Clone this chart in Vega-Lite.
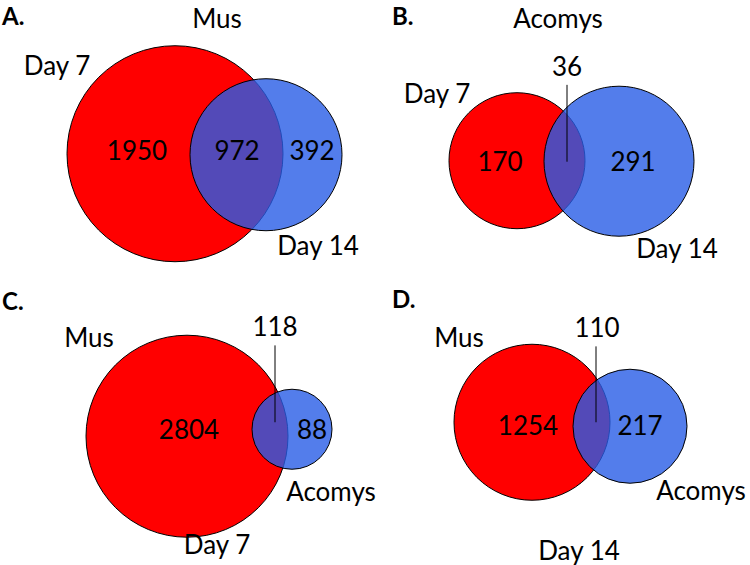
{
  "$schema": "https://vega.github.io/schema/vega-lite/v6.json",
  "width": 750,
  "height": 565,
  "autosize": {"type": "fit", "contains": "padding"},
  "padding": 0,
  "background": "white",
  "config": {"view": {"stroke": null}},
  "datasets": {
    "circles": [
      {"panel": "A", "set": "first", "ord": 1, "cx": 175, "cy": 154, "r": 108},
      {"panel": "A", "set": "second", "ord": 2, "cx": 266, "cy": 155, "r": 76},
      {"panel": "B", "set": "first", "ord": 1, "cx": 517, "cy": 161, "r": 68},
      {"panel": "B", "set": "second", "ord": 2, "cx": 619, "cy": 161.5, "r": 75},
      {"panel": "C", "set": "first", "ord": 1, "cx": 187, "cy": 437, "r": 101},
      {"panel": "C", "set": "second", "ord": 2, "cx": 292, "cy": 430, "r": 40},
      {"panel": "D", "set": "first", "ord": 1, "cx": 532, "cy": 423, "r": 78},
      {"panel": "D", "set": "second", "ord": 2, "cx": 630, "cy": 427, "r": 57}
    ],
    "labels": [
      {"panel": "A", "text": "Mus", "x": 217, "y": 20},
      {"panel": "A", "text": "Day 7", "x": 57, "y": 67},
      {"panel": "A", "text": "1950", "x": 137, "y": 152},
      {"panel": "A", "text": "972", "x": 237, "y": 152},
      {"panel": "A", "text": "392", "x": 312, "y": 152},
      {"panel": "A", "text": "Day 14", "x": 318, "y": 247},
      {"panel": "B", "text": "Acomys", "x": 558, "y": 20},
      {"panel": "B", "text": "36", "x": 567, "y": 68},
      {"panel": "B", "text": "Day 7", "x": 437, "y": 95},
      {"panel": "B", "text": "170", "x": 500, "y": 163},
      {"panel": "B", "text": "291", "x": 633, "y": 163},
      {"panel": "B", "text": "Day 14", "x": 677, "y": 250},
      {"panel": "C", "text": "Mus", "x": 89, "y": 340},
      {"panel": "C", "text": "118", "x": 275, "y": 329},
      {"panel": "C", "text": "2804", "x": 189, "y": 432},
      {"panel": "C", "text": "88", "x": 312, "y": 432},
      {"panel": "C", "text": "Acomys", "x": 331, "y": 494},
      {"panel": "C", "text": "Day 7", "x": 217, "y": 547},
      {"panel": "D", "text": "Mus", "x": 459, "y": 340},
      {"panel": "D", "text": "110", "x": 597, "y": 330},
      {"panel": "D", "text": "1254", "x": 528, "y": 428},
      {"panel": "D", "text": "217", "x": 640, "y": 428},
      {"panel": "D", "text": "Acomys", "x": 701, "y": 493},
      {"panel": "D", "text": "Day 14", "x": 579, "y": 553}
    ],
    "panels": [
      {"text": "A.", "x": 2, "y": 18},
      {"text": "B.", "x": 392, "y": 18},
      {"text": "C.", "x": 2, "y": 304},
      {"text": "D.", "x": 392, "y": 302}
    ],
    "leaders": [
      {"panel": "B", "x": 567, "y1": 85, "y2": 162},
      {"panel": "C", "x": 275, "y1": 346, "y2": 423},
      {"panel": "D", "x": 596, "y1": 347, "y2": 423}
    ]
  },
  "layer": [
    {
      "data": {"name": "circles"},
      "mark": {"type": "point", "shape": "circle", "filled": true, "opacity": 1, "stroke": "black", "strokeWidth": 1, "strokeOpacity": 1},
      "encoding": {
        "x": {"field": "cx", "type": "quantitative", "scale": {"domain": [0, 750], "nice": false, "zero": false}, "axis": null},
        "y": {"field": "cy", "type": "quantitative", "scale": {"domain": [0, 565], "nice": false, "zero": false, "reverse": true}, "axis": null},
        "size": {"field": "r", "type": "quantitative", "scale": {"type": "pow", "exponent": 2, "domain": [0, 120], "range": [0, 57600]}, "legend": null},
        "fill": {"field": "set", "type": "nominal", "scale": {"domain": ["first", "second"], "range": ["#FF0000", "#285DE6"]}, "legend": null},
        "fillOpacity": {"field": "set", "type": "ordinal", "scale": {"domain": ["first", "second"], "range": [1, 0.8]}, "legend": null},
        "order": {"field": "ord", "type": "quantitative"}
      }
    },
    {
      "data": {"name": "leaders"},
      "mark": {"type": "rule", "color": "black", "strokeWidth": 1},
      "encoding": {
        "x": {"field": "x", "type": "quantitative"},
        "y": {"field": "y1", "type": "quantitative"},
        "y2": {"field": "y2"}
      }
    },
    {
      "data": {"name": "labels"},
      "mark": {"type": "text", "font": "Lato", "fontSize": 26, "align": "center", "baseline": "middle", "color": "black"},
      "encoding": {
        "x": {"field": "x", "type": "quantitative"},
        "y": {"field": "y", "type": "quantitative"},
        "text": {"field": "text"}
      }
    },
    {
      "data": {"name": "panels"},
      "mark": {"type": "text", "font": "Lato", "fontSize": 24, "fontWeight": "bold", "align": "left", "baseline": "middle", "color": "black"},
      "encoding": {
        "x": {"field": "x", "type": "quantitative"},
        "y": {"field": "y", "type": "quantitative"},
        "text": {"field": "text"}
      }
    }
  ]
}
